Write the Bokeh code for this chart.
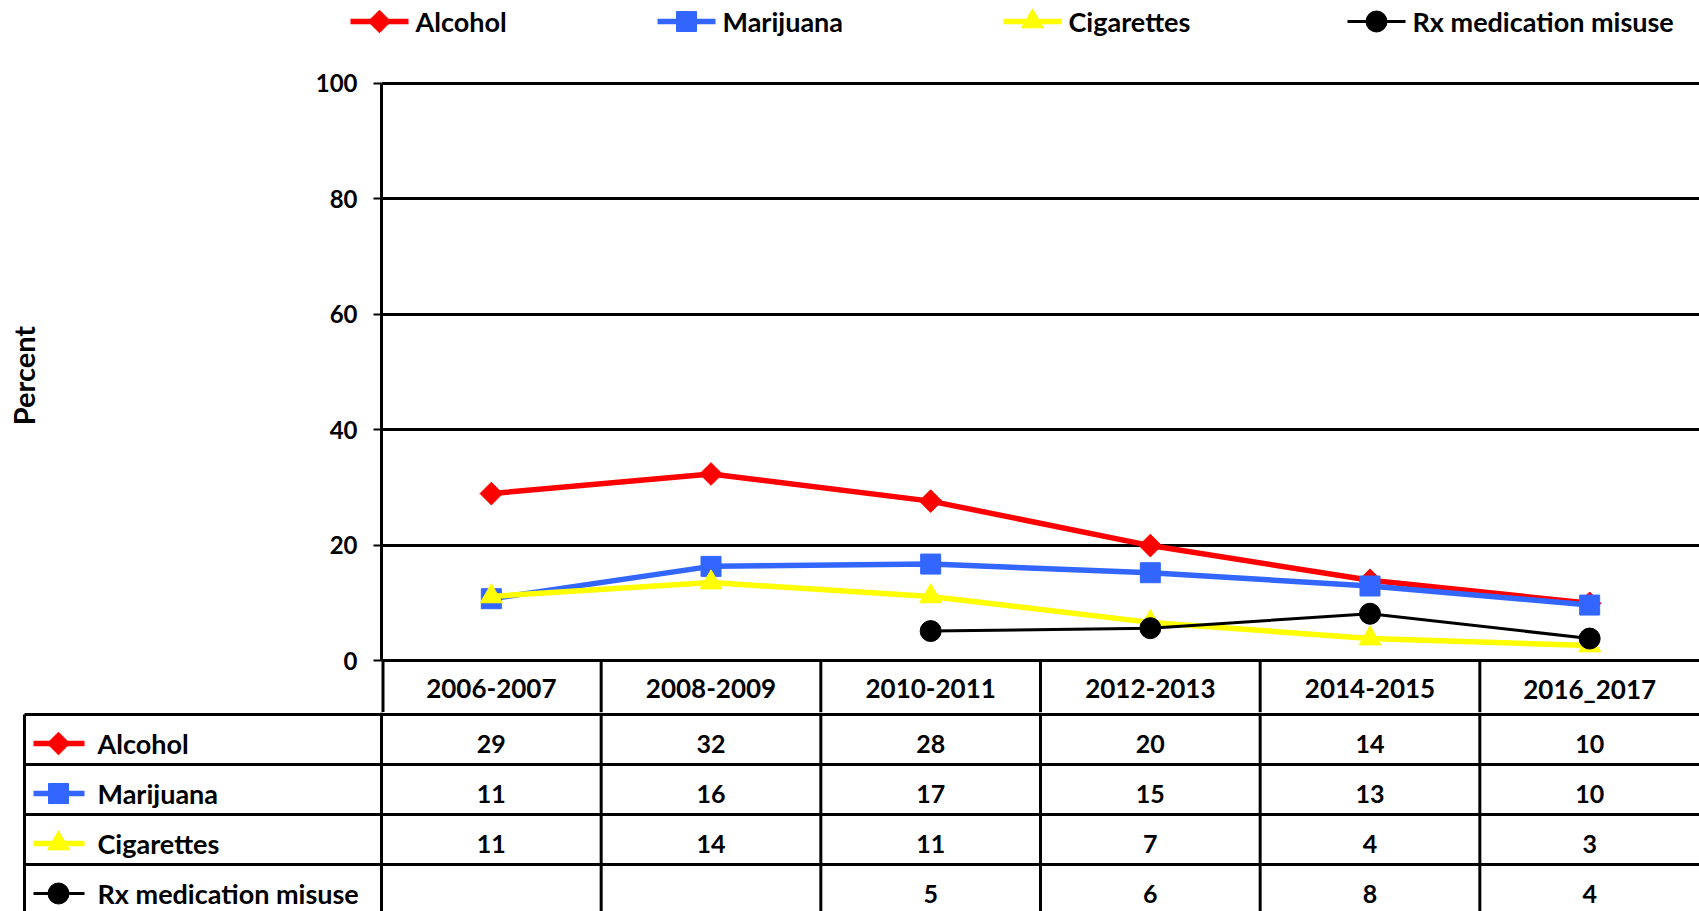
import math
from bokeh.plotting import figure
from bokeh.models import FactorRange, Range1d, FixedTicker
from bokeh.embed import file_html
from bokeh.resources import INLINE
from bokeh.core.properties import value

nan = float("nan")

# ---------------- data ----------------
categories = ["2006-2007", "2008-2009", "2010-2011", "2012-2013", "2014-2015", "2016_2017"]
series_names = ["Alcohol", "Marijuana", "Cigarettes", "Rx medication misuse"]
alcohol = [28.9, 32.3, 27.6, 19.9, 13.9, 9.9]
marijuana = [10.7, 16.3, 16.7, 15.2, 12.9, 9.6]
cigarettes = [11.1, 13.5, 11.1, 6.6, 3.8, 2.6]
rx_misuse = [nan, nan, 5.1, 5.6, 8.1, 3.8]
y_ticks = [0, 20, 40, 60, 80, 100]

# ---------------- styles ----------------
FONT = "Lato"
colors = ["#FF0000", "#3366FF", "#FFFF00", "#000000"]
markers = ["square", "square", "triangle", "circle"]
marker_sizes = [16, 20, 22, 21]
marker_angles = [math.pi / 4, 0, 0, 0]
line_widths = [5.5, 5.5, 5.5, 3]
all_series = [alcohol, marijuana, cigarettes, rx_misuse]
RULE_W = 3

# layout constants (page pixels)
W = 1699
LEG_H = 38          # legend strip height
AX_X = 381          # y axis position
Y100 = 82.5
Y0 = 660
HEAD_BOT = 712      # chart figure ends here (header row of table inside it)
BOTTOM = 911
unit = (W - AX_X) / 6.0
ppu = (Y0 - Y100) / 100.0
legend_starts = [350, 657, 1003, 1347]

# ---------------- legend strip ----------------
lg = figure(width=W, height=LEG_H, x_range=Range1d(0, W), y_range=Range1d(-LEG_H, 0),
            output_backend="svg", toolbar_location=None,
            x_axis_location=None, y_axis_location=None, min_border=0)
lg.grid.visible = False
lg.outline_line_color = None
LY = -21
for name, c, m, s, a, lw, x0 in zip(series_names, colors, markers, marker_sizes,
                                    marker_angles, line_widths, legend_starts):
    lg.segment(x0=[x0], x1=[x0 + 58], y0=[LY], y1=[LY], line_color=c, line_width=lw)
    lg.scatter(x=[x0 + 29], y=[LY], marker=m, size=s, angle=a, fill_color=c, line_color=c)
    lg.text(x=[x0 + 65], y=[LY], text=[name], text_align="left", text_baseline="middle",
            text_font=value(FONT), text_font_size="27px", text_font_style="bold",
            text_color="black")

# ---------------- chart ----------------
y_start = -(HEAD_BOT - Y0) / ppu
y_end = 100 + (Y100 - LEG_H) / ppu
p = figure(width=W, height=HEAD_BOT - LEG_H,
           x_range=FactorRange(factors=categories, range_padding=0),
           y_range=Range1d(y_start, y_end),
           output_backend="svg", toolbar_location=None,
           x_axis_location=None,
           min_border_left=AX_X, min_border_right=0,
           min_border_top=0, min_border_bottom=0)
p.outline_line_color = None
p.xgrid.visible = False
p.ygrid.grid_line_color = "black"
p.ygrid.grid_line_width = RULE_W
p.yaxis.ticker = FixedTicker(ticks=y_ticks)
p.yaxis.bounds = (0, 100)
p.yaxis.minor_tick_line_color = None
p.yaxis.major_tick_out = 8
p.yaxis.major_tick_in = 0
p.yaxis.major_tick_line_width = 2
p.yaxis.axis_line_width = 3
p.yaxis.major_label_text_font = FONT
p.yaxis.major_label_text_font_size = "24px"
p.yaxis.major_label_text_font_style = "bold"
p.yaxis.major_label_text_color = "black"
p.yaxis.major_label_standoff = 16
p.yaxis.axis_label = "Percent"
p.yaxis.axis_label_text_font = FONT
p.yaxis.axis_label_text_font_size = "29px"
p.yaxis.axis_label_text_font_style = "bold"
p.yaxis.axis_label_text_color = "black"
p.yaxis.axis_label_standoff = 272

for vals, c, m, s, a, lw in zip(all_series, colors, markers, marker_sizes,
                                marker_angles, line_widths):
    p.line(x=categories, y=vals, line_color=c, line_width=lw)
    p.scatter(x=categories, y=vals, marker=m, size=s, angle=a,
              fill_color=c, line_color=c)

# header row of the table (category labels) below the zero line
n = len(categories)
p.segment(x0=list(range(1, n)), x1=list(range(1, n)), y0=[0] * (n - 1),
          y1=[y_start] * (n - 1), line_color="black", line_width=RULE_W)
p.segment(x0=[0], x1=[0], y0=[0], y1=[y_start], line_color="black", line_width=6)
p.text(x=categories, y=[-(688 - Y0) / ppu] * n, text=categories, text_align="center",
       text_baseline="middle", text_font=value(FONT), text_font_size="26px",
       text_font_style="bold", text_color="black")

# ---------------- data table ----------------
TAB_H = BOTTOM - HEAD_BOT
def px_to_x(px):
    return -0.5 - (AX_X - px) / unit

t = figure(width=W, height=TAB_H,
           x_range=Range1d(px_to_x(0), 5.5), y_range=Range1d(-(TAB_H - 2), 2),
           output_backend="svg", toolbar_location=None,
           x_axis_location=None, y_axis_location=None, min_border=0)
t.grid.visible = False
t.outline_line_color = None

idx = list(range(n))
row_h = 50
row_tops = [-i * row_h for i in range(len(series_names))]
row_text_y = [rt - 29 for rt in row_tops]
table_left = px_to_x(24)

t.segment(x0=[table_left] * len(row_tops), x1=[5.5] * len(row_tops),
          y0=row_tops, y1=row_tops, line_color="black", line_width=RULE_W)
edges = [i - 0.5 for i in idx]
t.segment(x0=edges, x1=edges, y0=[2] * n, y1=[-TAB_H] * n,
          line_color="black", line_width=RULE_W)
t.segment(x0=[table_left], x1=[table_left], y0=[0], y1=[-TAB_H],
          line_color="black", line_width=RULE_W)

def fmt(v):
    return "" if v != v else str(int(math.floor(v + 0.5)))

gx0, gx1, gxm, lx = px_to_x(33), px_to_x(84), px_to_x(58), px_to_x(97)
for name, vals, c, m, s, a, lw, ty in zip(series_names, all_series, colors, markers,
                                          marker_sizes, marker_angles, line_widths,
                                          row_text_y):
    t.text(x=idx, y=[ty] * n, text=[fmt(v) for v in vals], text_align="center",
           text_baseline="middle", text_font=value(FONT), text_font_size="25px",
           text_font_style="bold", text_color="black")
    t.segment(x0=[gx0], x1=[gx1], y0=[ty], y1=[ty], line_color=c, line_width=lw)
    t.scatter(x=[gxm], y=[ty], marker=m, size=s, angle=a, fill_color=c, line_color=c)
    t.text(x=[lx], y=[ty], text=[name], text_align="left", text_baseline="middle",
           text_font=value(FONT), text_font_size="27px", text_font_style="bold",
           text_color="black")

open("out.html", "w").write(file_html([lg, p, t], INLINE))
